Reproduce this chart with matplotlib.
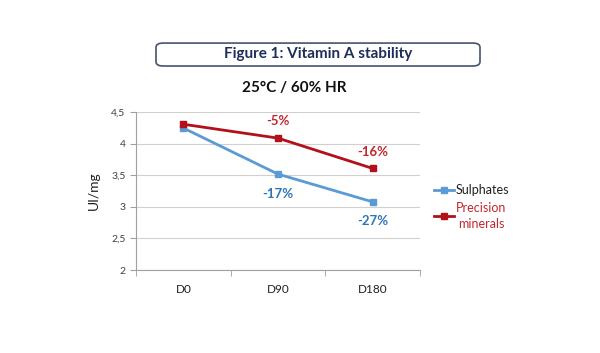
import matplotlib
matplotlib.use("Agg")
import matplotlib.pyplot as plt
from matplotlib.patches import FancyBboxPatch

plt.rcParams['font.family'] = ['Lato', 'DejaVu Sans']

days = ["D0", "D90", "D180"]
sulphates = [4.25, 3.52, 3.08]
precision = [4.31, 4.09, 3.61]
sulph_labels = ["", "-17%", "-27%"]
prec_labels = ["", "-5%", "-16%"]
yticks = [2, 2.5, 3, 3.5, 4, 4.5]
ytick_labels = ["2", "2,5", "3", "3,5", "4", "4,5"]

blue = "#5b9bd5"
red = "#b3101a"
blue_txt = "#2e75b6"
red_txt = "#c0282d"

fig = plt.figure(figsize=(6, 3.53), dpi=100)
ax = fig.add_axes([0.2267, 0.235, 0.4733, 0.447])

x = list(range(len(days)))
ax.plot(x, sulphates, color=blue, lw=2, marker="s", ms=4, label="Sulphates")
ax.plot(x, precision, color=red, lw=2, marker="s", ms=4, label="Precision\nminerals")

for i in x:
    if prec_labels[i]:
        ax.annotate(prec_labels[i], (i, precision[i]), xytext=(0, 12), textcoords="offset points",
                    ha="center", va="center", color=red_txt, fontsize=9.5, fontweight="bold")
    if sulph_labels[i]:
        ax.annotate(sulph_labels[i], (i, sulphates[i]), xytext=(0, -14), textcoords="offset points",
                    ha="center", va="center", color=blue_txt, fontsize=9.5, fontweight="bold")

ax.set_xlim(-0.5, 2.5)
ax.set_ylim(2, 4.5)
ax.set_yticks(yticks)
ax.set_yticklabels(ytick_labels, fontsize=7.5, color="#404040")
ax.set_xticks(x)
ax.set_xticklabels(days, fontsize=8.5, color="#202020")
ax.set_xticks([-0.5, 0.5, 1.5, 2.5], minor=True)
ax.tick_params(axis="x", which="major", length=0, pad=10)
ax.tick_params(axis="x", which="minor", length=4, color="#a0a0a0")
ax.tick_params(axis="y", length=4, color="#a0a0a0")
ax.grid(axis="y", color="#d0d0d0", lw=0.8)
ax.set_axisbelow(True)
for s in ["top", "right"]:
    ax.spines[s].set_visible(False)
for s in ["left", "bottom"]:
    ax.spines[s].set_color("#a0a0a0")
ax.set_ylabel("UI/mg", fontsize=10, color="#202020", labelpad=8)

leg = ax.legend(loc="center left", bbox_to_anchor=(1.03, 0.40), frameon=False, fontsize=9,
                handlelength=1.6, handletextpad=0.2, borderaxespad=0, labelspacing=0.45)
leg.get_texts()[1].set_color(red_txt)
leg.get_texts()[1].set_ha("center")
leg.get_texts()[1].set_linespacing(1.4)
leg.get_texts()[0].set_color("#202020")

box = FancyBboxPatch((0.26, 0.813), 0.54, 0.065, boxstyle="round,pad=0,rounding_size=0.012",
                     transform=fig.transFigure, fill=False, edgecolor="#45546e", lw=1.2)
fig.patches.append(box)
fig.text(0.53, 0.846, "Figure 1: Vitamin A stability", ha="center", va="center",
         fontsize=11, fontweight="bold", color="#1f2d5a")
fig.text(0.49, 0.75, "25°C / 60% HR", ha="center", va="center",
         fontsize=11, fontweight="bold", color="#111111")

fig.savefig("out.png", dpi=100, facecolor="white")
